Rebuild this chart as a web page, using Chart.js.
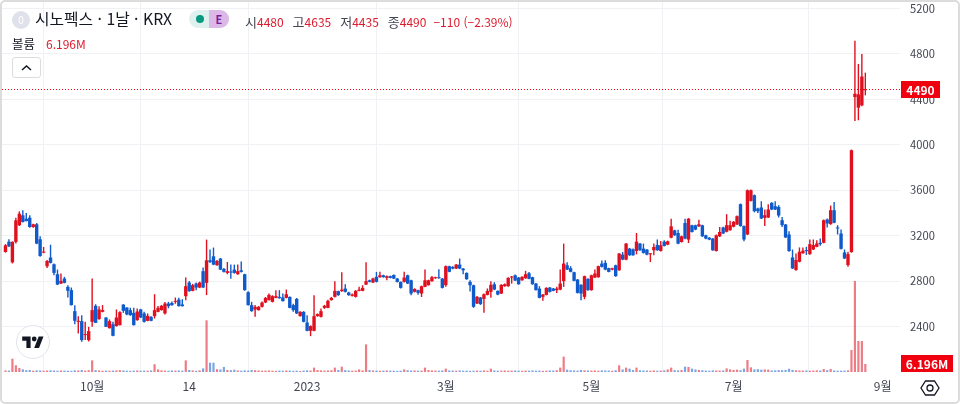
<!DOCTYPE html>
<html lang="ko">
<head>
<meta charset="utf-8">
<title>시노펙스 1날 KRX</title>
<script src="https://cdn.jsdelivr.net/npm/chart.js@4"></script>
<style>
  html, body { margin: 0; padding: 0; background: #fff; }
  #wrap { position: relative; width: 960px; height: 404px; overflow: hidden; font-family: "Noto Sans CJK KR", "Noto Sans", sans-serif; color: #131722; }
  #frame { position: absolute; left: 0; top: 0; width: 956px; height: 400px; border: 2px solid #dcdcdc; border-radius: 5px; pointer-events: none; }
  canvas { position: absolute; left: 0; top: 0; }
  .t { position: absolute; white-space: nowrap; line-height: 18px; }
  .r { color: #dc1c2e; font-size: 12px; }
  .h { font-size: 13px; color: #434651; margin-left: 9px; }
  #icon0 { position: absolute; left: 12px; top: 11px; width: 18px; height: 18px; border-radius: 50%; background: #dfe2ea; color: #fff; font-size: 10px; line-height: 18px; text-align: center; }
  #pill { position: absolute; left: 189px; top: 10px; width: 40px; height: 18px; border-radius: 9px; overflow: hidden; background: #dff1ee; }
  #pill i { position: absolute; left: 7px; top: 5px; width: 8px; height: 8px; border-radius: 50%; background: #089981; }
  #pill b { position: absolute; left: 20px; top: 0; width: 20px; height: 18px; background: #dcb8e8; color: #7b1fa2; font-size: 11px; line-height: 18px; text-align: center; }
  #btn { position: absolute; left: 12px; top: 57px; width: 27px; height: 19px; border: 1px solid #dcdcdc; border-radius: 3px; background: #fff; }
  #logo { position: absolute; left: 16px; top: 325px; width: 32px; height: 32px; border: 1px solid #e0e3eb; border-radius: 50%; background: #fff; }
</style>
</head>
<body>
<div id="wrap">
  <canvas id="candles" width="960" height="404"></canvas>
  <div id="icon0">0</div>
  <div class="t" style="left:35px;top:10px;font-size:15.8px">시노펙스 · 1날 · KRX</div>
  <div id="pill"><i></i><b>E</b></div>
  <div class="t" style="left:236px;top:11px"><span class="h">시</span><span class="r">4480</span><span class="h">고</span><span class="r">4635</span><span class="h">저</span><span class="r">4435</span><span class="h">종</span><span class="r">4490</span><span class="r" style="margin-left:7px">−110 (−2.39%)</span></div>
  <div class="t" style="left:12px;top:35px;font-size:12.5px">볼륨</div>
  <div class="t r" style="left:46px;top:35px">6.196M</div>
  <div id="btn"><svg width="27" height="19"><path d="M9 12l4.5-4 4.5 4" fill="none" stroke="#131722" stroke-width="1.5"/></svg></div>
  <div id="logo"><svg width="22" height="12" viewBox="0 0 36 20" style="position:absolute;left:5px;top:10px"><path d="M14 20H7V8H0V1h14zM28 20h-8l7.5-19h8z" fill="#131722"/><circle cx="20" cy="5" r="4" fill="#131722"/></svg></div>
  <svg width="20" height="20" style="position:absolute;left:920px;top:378px"><path d="M5.5 3h9l4.5 7-4.5 7h-9L1 10z" fill="none" stroke="#131722" stroke-width="1.3"/><circle cx="10" cy="10" r="3" fill="none" stroke="#131722" stroke-width="1.3"/></svg>
  <div id="frame"></div>
</div>
<script>
// OHLC, one trading day per column
var opens = [
  3056,3147,2965,3145,3291,3379,3349,3358,3276,3300,
  3168,3050,2930,3007,2948,2860,2778,2822,2749,2720,
  2535,2441,2447,2324,2280,2441,2582,2465,2529,2479,
  2385,2420,2403,2412,2593,2567,2544,2520,2456,2550,
  2515,2450,2485,2491,2529,2544,2515,2602,2608,2617,
  2637,2594,2667,2787,2714,2778,2743,2887,2784,2983,
  3018,2939,2998,2907,2872,2883,2901,2860,2895,2860,
  2702,2588,2550,2544,2573,2611,2632,2617,2652,2661,
  2655,2652,2661,2588,2643,2491,2529,2435,2362,2362,
  2491,2485,2564,2564,2632,2661,2711,2711,2734,2699,
  2670,2661,2714,2714,2769,2807,2787,2837,2834,2851,
  2828,2843,2854,2822,2793,2793,2851,2807,2705,2720,
  2690,2749,2764,2799,2825,2831,2822,2764,2931,2925,
  2910,2945,2910,2872,2793,2763,2602,2655,2643,2678,
  2705,2772,2714,2690,2755,2755,2831,2851,2831,2807,
  2825,2869,2834,2778,2734,2661,2678,2743,2734,2720,
  2725,2799,2939,2913,2878,2813,2767,2661,2819,2720,
  2831,2834,2954,2960,2913,2901,2939,2895,3033,2989,
  3086,3080,3065,3130,3086,3077,3036,3071,3118,3065,
  3147,3121,3182,3247,3223,3144,3311,3165,3291,3291,
  3282,3291,3203,3182,3174,3065,3194,3272,3234,3248,
  3278,3298,3477,3284,3210,3506,3556,3439,3448,3357,
  3360,3489,3459,3453,3336,3298,3210,3008,2897,2970,
  3045,3073,3037,3078,3102,3137,3137,3342,3301,3424,
  3272,3219,3052,2941,3055,4420,4327,4347,4480
];
var highs = [
  3125,3168,3150,3358,3414,3423,3399,3379,3305,3311,
  3194,3100,2985,3120,2955,2901,2866,2837,2763,2743,
  2588,2491,2500,2441,2397,2822,2596,2579,2588,2482,
  2462,2441,2550,2535,2596,2570,2564,2564,2558,2555,
  2530,2515,2490,2684,2580,2590,2615,2617,2620,2655,
  2652,2640,2831,2800,2775,2787,2795,2920,3165,3077,
  3095,2985,3003,2915,2968,2945,2945,2945,2972,2865,
  2710,2617,2590,2580,2620,2660,2690,2675,2720,2720,
  2690,2725,2665,2600,2650,2535,2535,2500,2410,2676,
  2515,2558,2590,2635,2660,2799,2715,2878,2772,2705,
  2690,2720,2750,2763,2966,2812,2830,2881,2881,2856,
  2850,2848,2858,2826,2797,2881,2856,2812,2736,2724,
  2760,2901,2812,2845,2838,2904,2826,2936,2935,2930,
  2950,2998,2915,2876,2807,2768,2668,2660,2690,2735,
  2799,2790,2718,2772,2778,2833,2845,2858,2836,2842,
  2890,2880,2838,2782,2755,2686,2745,2748,2738,2749,
  2901,3130,2966,2931,2882,2818,2772,2848,2824,2856,
  2901,2936,2980,2983,2918,2918,2944,3048,3056,3136,
  3092,3086,3223,3136,3130,3082,3045,3130,3165,3153,
  3159,3156,3349,3252,3252,3200,3349,3355,3296,3296,
  3340,3296,3208,3187,3179,3209,3276,3278,3389,3330,
  3328,3377,3483,3290,3606,3606,3562,3445,3503,3430,
  3477,3495,3503,3468,3365,3303,3239,3078,3043,3096,
  3096,3102,3166,3166,3160,3175,3342,3351,3465,3497,
  3292,3254,3078,3058,3958,4917,4712,4800,4635
];
var lows = [
  3050,3100,2955,3130,3285,3315,3325,3270,3270,3125,
  3015,3045,2916,2955,2851,2765,2775,2780,2655,2585,
  2420,2339,2265,2280,2268,2397,2430,2460,2525,2395,
  2382,2315,2400,2408,2520,2500,2495,2408,2450,2475,
  2436,2446,2446,2470,2525,2540,2505,2560,2582,2600,
  2575,2575,2632,2705,2710,2720,2738,2738,2676,2960,
  2940,2935,2897,2875,2860,2820,2865,2855,2875,2715,
  2585,2530,2485,2540,2568,2606,2628,2612,2648,2645,
  2620,2648,2560,2530,2510,2487,2437,2358,2315,2358,
  2487,2480,2555,2560,2628,2655,2670,2705,2700,2670,
  2665,2655,2710,2710,2765,2788,2782,2788,2830,2830,
  2808,2824,2818,2788,2735,2788,2774,2676,2700,2680,
  2660,2745,2760,2795,2820,2821,2735,2750,2877,2905,
  2906,2905,2860,2812,2708,2565,2598,2590,2520,2674,
  2652,2720,2676,2686,2750,2750,2778,2800,2768,2803,
  2820,2815,2768,2716,2648,2626,2674,2700,2710,2695,
  2720,2749,2897,2877,2798,2690,2632,2640,2715,2715,
  2826,2830,2920,2896,2877,2896,2838,2890,2984,2984,
  3022,3022,3035,3066,3042,3028,2968,3027,3066,3060,
  3104,3116,3176,3198,3125,3139,3169,3135,3227,3248,
  3276,3189,3169,3160,3066,3060,3189,3214,3229,3243,
  3273,3293,3279,3150,3205,3500,3405,3400,3346,3284,
  3355,3425,3425,3360,3277,3179,3059,2906,2890,2965,
  3040,3030,3032,3073,3097,3110,3132,3272,3296,3308,
  3210,3079,2994,2926,3050,4210,4216,4340,4435
];
var closes = [
  3115,3106,3145,3335,3393,3320,3329,3276,3300,3130,
  3021,3058,2977,2960,2872,2769,2802,2784,2714,2588,
  2450,2450,2280,2330,2359,2544,2432,2550,2544,2397,
  2447,2318,2479,2526,2538,2506,2500,2412,2532,2479,
  2441,2494,2450,2544,2564,2582,2602,2579,2588,2623,
  2579,2579,2755,2711,2764,2743,2787,2743,2983,2968,
  2945,2977,2901,2881,2887,2875,2872,2887,2881,2720,
  2588,2535,2573,2573,2611,2652,2678,2667,2667,2649,
  2623,2684,2564,2544,2515,2529,2441,2362,2403,2491,
  2509,2535,2582,2626,2652,2714,2676,2725,2705,2676,
  2681,2714,2725,2740,2799,2793,2822,2793,2851,2834,
  2843,2828,2822,2793,2740,2831,2778,2690,2731,2696,
  2755,2807,2807,2834,2831,2825,2740,2931,2881,2910,
  2945,2910,2895,2816,2763,2573,2661,2597,2684,2714,
  2767,2725,2681,2767,2772,2828,2840,2804,2772,2837,
  2860,2819,2772,2720,2652,2681,2740,2705,2714,2734,
  2778,2954,2901,2881,2802,2696,2690,2843,2720,2851,
  2866,2931,2925,2901,2881,2913,2843,3042,2989,3130,
  3027,3027,3147,3071,3048,3033,3042,3100,3071,3115,
  3109,3150,3282,3203,3130,3194,3174,3349,3232,3253,
  3300,3194,3174,3165,3071,3203,3232,3219,3292,3292,
  3322,3371,3284,3166,3600,3600,3415,3415,3351,3380,
  3430,3430,3430,3377,3292,3184,3064,2911,2985,3058,
  3067,3064,3125,3117,3131,3125,3336,3307,3424,3313,
  3263,3084,2999,3037,3952,4450,4444,4601,4490
];
// volume in millions
var volumes = [
  1.2,1.1,10.3,5.2,3.1,2.1,1.4,1.6,1.0,1.3,
  1.2,1.0,1.1,1.3,1.1,1.0,1.2,1.1,1.0,0.9,
  1.3,1.2,1.6,1.1,1.4,9.0,1.5,1.2,1.0,1.1,
  1.0,1.1,1.3,1.4,1.2,1.0,0.9,1.1,1.2,1.0,
  1.1,1.0,1.2,6.0,2.0,1.3,1.1,1.0,1.2,1.1,
  1.2,1.0,9.0,1.6,1.2,1.0,1.3,2.8,40.0,7.2,
  7.2,2.2,2.0,3.9,1.6,1.4,1.8,1.2,1.0,1.3,
  1.1,1.6,1.4,1.2,1.0,1.1,1.2,1.0,0.9,1.1,
  1.0,1.2,1.1,0.9,1.0,0.8,1.1,1.3,1.1,3.4,
  1.5,1.3,1.1,1.2,1.4,3.4,1.6,4.1,1.5,1.2,
  1.0,1.1,2.0,1.3,21.4,1.5,1.2,1.1,1.0,1.1,
  1.2,1.1,1.0,0.9,1.0,2.0,1.4,1.1,1.2,1.0,
  1.1,3.4,1.5,1.2,1.1,1.0,1.2,2.6,1.2,1.1,
  1.0,1.2,1.0,1.1,0.9,1.0,1.1,1.0,1.2,1.0,
  2.6,1.2,1.0,1.1,1.2,1.0,1.1,1.2,1.0,0.9,
  1.1,1.0,1.2,1.0,1.1,0.9,1.0,1.2,1.1,1.4,
  3.4,11.9,1.8,1.4,1.2,1.1,1.6,1.3,1.2,1.1,
  1.2,1.0,1.3,1.2,1.1,1.0,1.4,5.2,2.0,3.4,
  2.6,1.5,3.4,1.3,1.2,1.1,1.0,1.2,1.0,1.1,
  1.3,2.0,3.4,1.5,1.2,1.6,4.1,3.9,2.6,2.0,
  1.6,1.4,1.1,1.0,1.3,1.2,1.1,1.2,2.8,2.0,
  1.6,1.8,1.4,2.6,9.3,3.6,2.0,2.2,1.8,2.0,
  1.8,1.2,1.3,1.5,1.4,1.6,2.5,1.6,1.3,1.2,
  1.1,1.2,1.0,1.1,1.3,1.2,2.3,1.4,2.3,1.2,
  1.0,1.0,1.1,1.3,17.0,70.4,24.0,24.0,6.196
];
// axis labels
var priceTicks = [2400,2800,3200,3600,4000,4400,4800,5200];
var timeTickIndex = [25,53,87,127,169,210,253];
var timeTickLabels = ['10월','14','2023','3월','5월','7월','9월'];

var UP = '#e0101f', DOWN = '#0f5bcc';
var UP_VOL = 'rgba(224,16,31,0.55)', DOWN_VOL = 'rgba(15,91,204,0.55)';
var RED_TAG = '#f0000f';

var lastClose = closes[closes.length - 1];
var lastVolume = volumes[volumes.length - 1];

function barColor(i, up, down) {
  return closes[i] >= opens[i] ? up : down;
}

var wickData = [], bodyData = [], volData = [];
opens.forEach(function(o, i) {
  wickData.push({x: i, y: [lows[i], highs[i]]});
  bodyData.push({x: i, y: [o, closes[i]]});
  volData.push({x: i, y: volumes[i]});
});

// last price line and the two red tags on the right
var lastValuePlugin = {
  id: 'lastValue',
  afterDraw: function(chart) {
    var c = chart.ctx, a = chart.chartArea;
    var y = Math.round(chart.scales.y.getPixelForValue(lastClose)) + 0.5;
    c.save();
    c.strokeStyle = RED_TAG;
    c.setLineDash([1, 2]);
    c.beginPath();
    c.moveTo(2, y);
    c.lineTo(a.right, y);
    c.stroke();
    c.setLineDash([]);
    c.fillStyle = RED_TAG;
    c.fillRect(a.right + 1, y - 8.5, 39, 17);
    var vy = chart.scales.yVol.getPixelForValue(0);
    c.fillRect(a.right + 1, vy - 17, 52, 17);
    c.fillStyle = '#fff';
    c.font = 'bold 12px "Noto Sans CJK KR", "Noto Sans", sans-serif';
    c.textAlign = 'center';
    c.textBaseline = 'middle';
    c.fillText(String(lastClose), a.right + 20.5, y + 0.5);
    c.fillText(lastVolume + 'M', a.right + 27, vy - 8);
    c.restore();
  }
};

new Chart(document.getElementById('candles'), {
  type: 'bar',
  plugins: [lastValuePlugin],
  data: {
    datasets: [
      {label: '볼륨', data: volData, yAxisID: 'yVol', barThickness: 2.2, inflateAmount: 0,
        backgroundColor: opens.map(function(o, i) { return barColor(i, UP_VOL, DOWN_VOL); })},
      {label: '고저', data: wickData, barThickness: 1.4, inflateAmount: 0,
        backgroundColor: opens.map(function(o, i) { return barColor(i, UP, DOWN); })},
      {label: '시종', data: bodyData, barThickness: 3.4, inflateAmount: 0, minBarLength: 1,
        backgroundColor: opens.map(function(o, i) { return barColor(i, UP, DOWN); })}
    ]
  },
  options: {
    responsive: false,
    animation: false,
    layout: {padding: {left: 2, top: 0, right: 0, bottom: 0}},
    plugins: {legend: {display: false}, tooltip: {enabled: false}},
    datasets: {bar: {grouped: false, borderWidth: 0}},
    scales: {
      x: {
        type: 'linear',
        min: -1,
        max: 258,
        offset: false,
        afterBuildTicks: function(s) { s.ticks = timeTickIndex.map(function(v) { return {value: v}; }); },
        afterFit: function(s) { s.height = 32; s.paddingLeft = 0; s.paddingRight = 0; },
        grid: {color: '#f0f1f4', drawTicks: false},
        border: {display: false},
        ticks: {
          autoSkip: false, maxRotation: 0, padding: 7, color: '#434651',
          font: {family: '"Noto Sans CJK KR", "Noto Sans", sans-serif', size: 12},
          callback: function(v) { return timeTickLabels[timeTickIndex.indexOf(v)]; }
        }
      },
      y: {
        position: 'right',
        min: 1999.3,
        max: 5274.8,
        afterBuildTicks: function(s) { s.ticks = priceTicks.map(function(v) { return {value: v}; }); },
        afterFit: function(s) { s.width = 60; s.paddingTop = 0; s.paddingBottom = 0; },
        grid: {color: '#f0f1f4', drawTicks: false},
        border: {display: false},
        ticks: {
          padding: 10, color: '#434651',
          font: {family: '"Noto Sans CJK KR", "Noto Sans", sans-serif', size: 11.2},
          callback: function(v) { return String(v); }
        }
      },
      yVol: {display: false, min: 0, max: 288}
    }
  }
});
</script>
</body>
</html>
